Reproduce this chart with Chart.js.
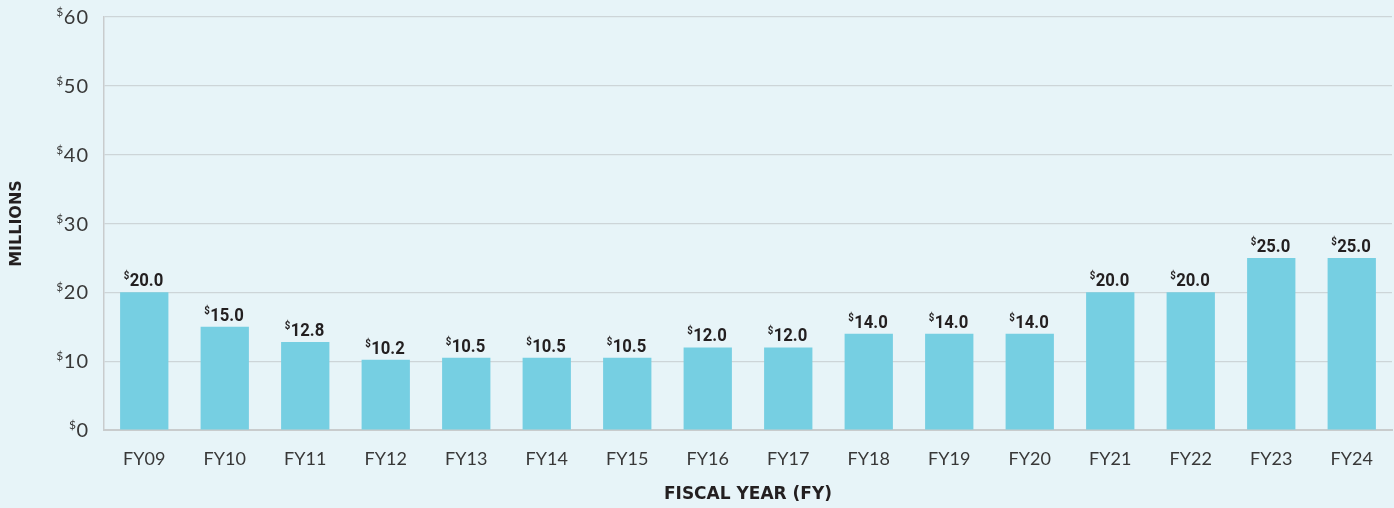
<!DOCTYPE html>
<html><head><meta charset="utf-8">
<script src="https://cdn.jsdelivr.net/npm/chart.js@4.4.1/dist/chart.umd.min.js"></script>
<style>
html,body{margin:0;padding:0;background:#e7f4f8;}
#wrap{width:1394px;height:508px;position:relative;}
</style></head><body>
<div id="wrap"><canvas id="c" width="1394" height="508"></canvas></div>
<script>
const categories = ["FY09","FY10","FY11","FY12","FY13","FY14","FY15","FY16","FY17","FY18","FY19","FY20","FY21","FY22","FY23","FY24"];
const values = [20.0,15.0,12.8,10.2,10.5,10.5,10.5,12.0,12.0,14.0,14.0,14.0,20.0,20.0,25.0,25.0];
const yTickValues = [0,10,20,30,40,50,60];

const TICK_FONT = '"Lato", "Open Sans", sans-serif';
const TITLE_FONT = '"DejaVu Sans", sans-serif';
const LABEL_FONT = 'Roboto, "Liberation Sans", sans-serif';

const customText = {
  id:'customText',
  afterDraw(chart){
    const ctx = chart.ctx;
    const y = chart.scales.y;
    ctx.save();
    ctx.fillStyle = '#383838';
    ctx.textBaseline = 'alphabetic';
    ctx.textAlign = 'left';
    yTickValues.forEach(v=>{
      const py = y.getPixelForValue(v);
      const num = String(v);
      ctx.letterSpacing = '1px';
      ctx.font = '400 20px ' + TICK_FONT;
      const w = ctx.measureText(num).width;
      const right = 89;
      ctx.fillText(num, right - w, py + 7);
      ctx.letterSpacing = '0px';
      ctx.font = '400 12px ' + TICK_FONT;
      const ws = ctx.measureText('$').width;
      ctx.fillText('$', right - w - ws - 0.5, py - 1);
    });
    // bar labels
    const meta = chart.getDatasetMeta(0);
    ctx.fillStyle = '#231f20';
    const sx = 0.88;
    meta.data.forEach((bar,i)=>{
      const txt = values[i].toFixed(1);
      ctx.font = 'bold 19px ' + LABEL_FONT;
      const w = ctx.measureText(txt).width * sx;
      ctx.font = 'bold 11px ' + LABEL_FONT;
      const ws = ctx.measureText('$').width * sx;
      const total = w + ws;
      const left = bar.x - total/2 - 1;
      const base = bar.y - 6;
      ctx.save();
      ctx.translate(left, base);
      ctx.scale(sx, 1);
      ctx.fillText('$', 0, -7);
      ctx.font = 'bold 19px ' + LABEL_FONT;
      ctx.fillText(txt, ws/sx + 0.5, 0);
      ctx.restore();
    });
    ctx.restore();
  }
};

new Chart(document.getElementById('c'), {
  type:'bar',
  data:{labels:categories, datasets:[{data:values, backgroundColor:'#76cfe2', barPercentage:0.6, categoryPercentage:1.0}]},
  options:{
    responsive:false, animation:false,
    layout:{padding:{top:17,right:2,left:0,bottom:0}},
    plugins:{legend:{display:false}, tooltip:{enabled:false}},
    scales:{
      x:{
        grid:{display:false, drawTicks:false},
        border:{color:'#c9cccd', width:2},
        ticks:{color:'#383838', font:{family:TICK_FONT, size:18, weight:'400'}, padding:18},
        title:{display:true, text:'FISCAL YEAR (FY)', color:'#231f20', font:{family:TITLE_FONT, size:17, weight:'bold'}, padding:{top:0,bottom:3}},
        afterFit(s){ s.height = 78; }
      },
      y:{
        min:0, max:60,
        ticks:{stepSize:10, color:'rgba(0,0,0,0)', font:{size:16}},
        grid:{color:'#cdd5d8', lineWidth:1.2, drawTicks:false},
        border:{color:'#c9cccd', width:1.5},
        title:{display:true, text:'MILLIONS', color:'#231f20', font:{family:TITLE_FONT, size:16, weight:'bold'}, padding:{top:7,bottom:0}},
        afterFit(s){ s.width = 104; }
      }
    }
  },
  plugins:[customText]
});
</script>
</body></html>
